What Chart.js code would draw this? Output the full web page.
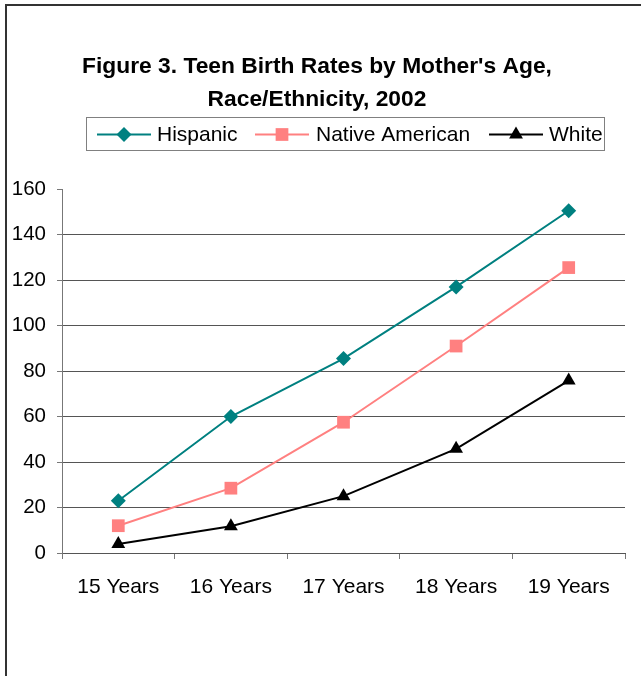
<!DOCTYPE html>
<html>
<head>
<meta charset="utf-8">
<script src="https://cdn.jsdelivr.net/npm/chart.js@4/dist/chart.umd.min.js"></script>
<style>
  html, body { margin: 0; padding: 0; background: #fff; }
  #wrap { width: 641px; height: 676px; position: relative; }
</style>
</head>
<body>
<div id="wrap"><canvas id="c" width="641" height="676"></canvas></div>
<script>
// Teen birth rates (births per 1,000 women) by age of mother, 2002
const ageLabels = ['15 Years', '16 Years', '17 Years', '18 Years', '19 Years'];
const hispanic = [23, 60, 85.5, 117, 150.5];
const nativeAmerican = [12, 28.5, 57.5, 91, 125.5];
const white = [4, 11.8, 25, 45.8, 75.8];
const yTicks = [0, 20, 40, 60, 80, 100, 120, 140, 160];

const FONT = "'Liberation Sans', Arial, Helvetica, sans-serif";

const seriesStyles = [
  { label: 'Hispanic', data: hispanic, color: '#008080', pointStyle: 'rectRot', radius: 7.5 },
  { label: 'Native American', data: nativeAmerican, color: '#FF8080', pointStyle: 'rect', radius: 9 },
  { label: 'White', data: white, color: '#000000', pointStyle: 'triangle', radius: 8 }
];

// Outer frame (top and left edges) around the figure
const framePlugin = {
  id: 'frame',
  beforeDraw(chart) {
    const ctx = chart.ctx;
    ctx.save();
    ctx.fillStyle = '#fff';
    ctx.fillRect(0, 0, chart.width, chart.height);
    ctx.strokeStyle = '#333';
    ctx.lineWidth = 2;
    ctx.beginPath();
    ctx.moveTo(6, chart.height);
    ctx.lineTo(6, 5);
    ctx.lineTo(chart.width, 5);
    ctx.stroke();
    ctx.restore();
  }
};

// Boxed legend with a line-and-marker sample for each series
const boxLegendPlugin = {
  id: 'boxLegend',
  afterDraw(chart) {
    const ctx = chart.ctx;
    const box = { x: 86.5, y: 117.5, w: 518, h: 33 };
    const cy = box.y + box.h / 2 + 0.5;
    const entries = [
      { lineX: 97, textX: 157 },
      { lineX: 255, textX: 316 },
      { lineX: 489, textX: 549 }
    ];
    ctx.save();
    ctx.strokeStyle = '#808080';
    ctx.lineWidth = 1;
    ctx.strokeRect(box.x, box.y, box.w, box.h);
    chart.data.datasets.forEach((ds, i) => {
      const e = entries[i];
      const sw = 54;
      ctx.strokeStyle = ds.borderColor;
      ctx.lineWidth = 2;
      ctx.beginPath();
      ctx.moveTo(e.lineX, cy);
      ctx.lineTo(e.lineX + sw, cy);
      ctx.stroke();
      ctx.fillStyle = ds.pointBackgroundColor;
      ctx.strokeStyle = ds.pointBorderColor;
      Chart.helpers.drawPoint(ctx, {
        pointStyle: ds.pointStyle,
        radius: ds.pointRadius,
        rotation: 0,
        borderWidth: 0
      }, e.lineX + sw / 2, cy);
      ctx.fillStyle = '#000';
      ctx.font = '21px ' + FONT;
      ctx.textBaseline = 'middle';
      ctx.textAlign = 'left';
      ctx.fillText(ds.label, e.textX, cy + 1);
    });
    ctx.restore();
  }
};

new Chart(document.getElementById('c'), {
  type: 'line',
  data: {
    labels: ageLabels,
    datasets: seriesStyles.map(s => ({
      label: s.label,
      data: s.data,
      borderColor: s.color,
      backgroundColor: s.color,
      pointBackgroundColor: s.color,
      pointBorderColor: s.color,
      pointBorderWidth: 0,
      pointStyle: s.pointStyle,
      pointRadius: s.radius,
      borderWidth: 2,
      tension: 0,
      fill: false
    }))
  },
  options: {
    responsive: false,
    animation: false,
    layout: { padding: { left: 9, right: 16, top: 0, bottom: 0 } },
    plugins: {
      legend: { display: false },
      tooltip: { enabled: false },
      title: {
        display: true,
        text: ['Figure 3. Teen Birth Rates by Mother\'s Age,', 'Race/Ethnicity, 2002'],
        color: '#000',
        font: { family: FONT, size: 22.8, weight: 'bold', lineHeight: 1.45 },
        padding: { top: 50, bottom: 73 }
      }
    },
    scales: {
      x: {
        type: 'category',
        offset: true,
        grid: {
          offset: true,
          drawOnChartArea: false,
          drawTicks: true,
          tickLength: 6,
          tickColor: '#777'
        },
        border: { display: true, color: '#555', width: 1 },
        ticks: {
          color: '#000',
          font: { family: FONT, size: 21 },
          padding: 16,
          maxRotation: 0,
          autoSkip: false
        },
        afterFit(scale) { scale.height = 123; }
      },
      y: {
        min: 0,
        max: 160,
        afterBuildTicks(scale) { scale.ticks = yTicks.map(v => ({ value: v })); },
        grid: {
          color: ctx => (ctx.tick && ctx.tick.value === 160) ? 'rgba(0,0,0,0)' : '#555',
          tickColor: '#777',
          tickLength: 5,
          drawTicks: true
        },
        border: { display: true, color: '#777', width: 1 },
        ticks: {
          color: '#000',
          font: { family: FONT, size: 20.5 },
          padding: 11
        },
        afterFit(scale) { scale.width = 53; }
      }
    }
  },
  plugins: [framePlugin, boxLegendPlugin]
});
</script>
</body>
</html>
